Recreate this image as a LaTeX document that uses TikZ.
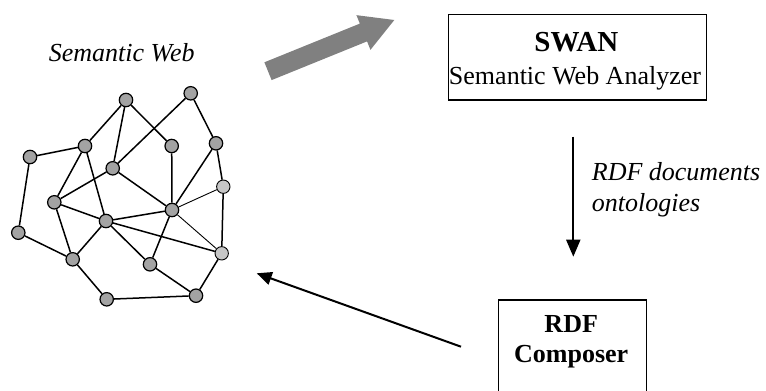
\documentclass[tikz,border=0pt]{standalone}
\usepackage{fontspec}
\setmainfont{Liberation Serif}
\usetikzlibrary{arrows.meta}
\definecolor{vert}{HTML}{A3A3A3}
\definecolor{vertl}{HTML}{C6C6C6}
\definecolor{flow}{HTML}{808080}

\begin{document}
\begin{tikzpicture}[x=1pt, y=-1pt, every node/.style={font=\fontsize{26}{32}\selectfont},
  vx/.style={circle, draw, fill=vert, line width=1.2pt, inner sep=0, minimum size=13.4pt},
  box/.style={draw, line width=1.5pt, inner sep=0}]
\useasboundingbox (0,0) rectangle (766,391);
% the web of resources, left
\foreach \n/\x/\y in {1/126/100, 2/190.7/93.3, 3/30/157, 4/85/146, 5/171.7/146, 6/216/143.3,
  7/112.7/168.3, 9/54.3/202.3, 10/172/210, 11/106/221, 12/18.3/232.7, 14/72.7/259.3,
  15/150/264.3, 16/196/295.7, 17/106.7/299.3}
  \node[vx] (v\n) at (\x,\y) {};
\node[vx, fill=vertl, line width=0.9pt] (v8) at (223.3,186.7) {};
\node[vx, fill=vertl, line width=0.9pt] (v13) at (221.7,253.3) {};
\foreach \a/\b in {1/4, 1/7, 1/5, 2/7, 2/6, 3/4, 3/12, 4/9, 4/11, 5/10, 6/10, 6/8, 7/9, 7/10,
  8/13, 9/11, 9/14, 10/11, 10/15, 11/13, 11/14, 11/15, 12/14, 14/17, 15/16, 13/16, 16/17}
  \draw[line width=1.5pt] (v\a) -- (v\b);
\foreach \a/\b in {8/10, 10/13} \draw[line width=0.9pt] (v\a) -- (v\b);
\node[anchor=base, font=\fontsize{26}{32}\selectfont\itshape] (web) at (121.7,61.7) {Semantic Web};
% fat grey arrow towards the analyzer
\fill[flow, shift={(268,71.2)}, rotate=22.07] (0,-9.6) -- (103,-9.6) -- (103,-18.7) -- (136.3,0)
  -- (103,18.7) -- (103,9.6) -- (0,9.6) -- cycle;
% SWAN box
\node[box, minimum width=258.4pt, minimum height=85.7pt] (swan) at (577.5,57.2) {};
\node[anchor=base, font=\fontsize{29}{32}\selectfont\bfseries] (swant) at (576.3,51.7) {SWAN};
\node[anchor=base] (swans) at (575,84) {Semantic Web Analyzer};
% composer box, runs off the bottom
\node[box, minimum width=148.4pt, minimum height=100pt] (comp) at (572.5,350) {};
\node[anchor=base, font=\fontsize{26}{30}\selectfont\bfseries] (compa) at (571.2,332.7) {RDF};
\node[anchor=base, font=\fontsize{26}{30}\selectfont\bfseries] (compb) at (571.2,362.7) {Composer};
% flows
\coordinate (dtop) at (573.3,136.7);
\coordinate (dbot) at (573.3,256.7);
\draw[line width=2pt, -{Triangle[length=17pt, width=14pt]}] (dtop) -- (dbot);
\node[anchor=west, align=left, inner sep=0, font=\fontsize{26}{31.7}\selectfont\itshape] (lbl) at (591.7,189.8)
  {RDF documents\\ontologies};
\coordinate (cout) at (461,346.7);
\coordinate (back) at (256.7,273.3);
\draw[line width=2pt, -{Triangle[length=15pt, width=13pt]}] (cout) -- (back);
\end{tikzpicture}
\end{document}
